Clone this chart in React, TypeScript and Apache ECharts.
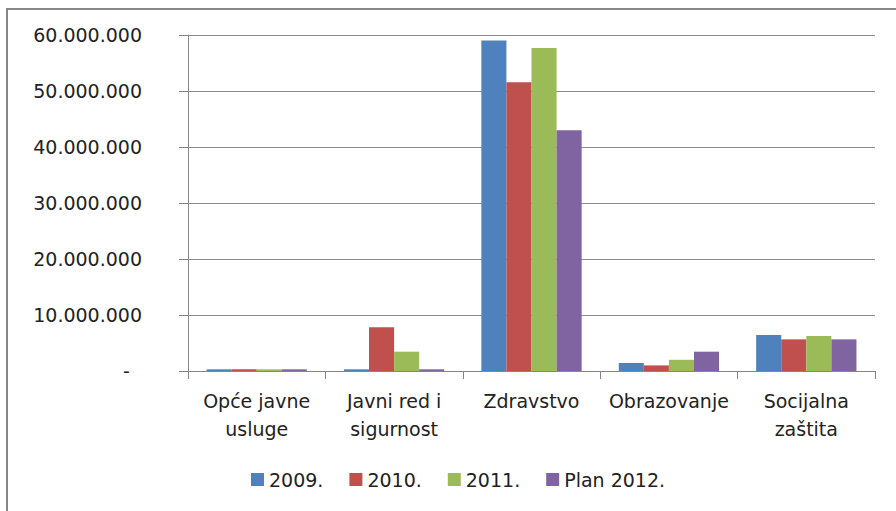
import React, { useEffect, useRef } from "react";
import * as echarts from "echarts";

const categories = ["Opće javne\nusluge", "Javni red i\nsigurnost", "Zdravstvo", "Obrazovanje", "Socijalna\nzaštita"];
const seriesNames = ["2009.", "2010.", "2011.", "Plan 2012."];
const values2009 = [300000, 300000, 59000000, 1430000, 6430000];
const values2010 = [300000, 7800000, 51550000, 1000000, 5650000];
const values2011 = [300000, 3450000, 57700000, 2000000, 6250000];
const values2012 = [300000, 300000, 43000000, 3450000, 5650000];
const colors = ["#4F81BD", "#C0504D", "#9BBB59", "#8064A2"];

const FONT = "DejaVu Sans";

function fmt(v: number): string {
  if (v === 0) return "-  ";
  return String(Math.round(v)).replace(/\B(?=(\d{3})+(?!\d))/g, ".");
}

export default function App() {
  const ref = useRef<HTMLDivElement>(null);
  useEffect(() => {
    if (!ref.current) return;
    const chart = echarts.init(ref.current, undefined, { renderer: "svg" });
    const all = [values2009, values2010, values2011, values2012];
    chart.setOption({
      animation: false,
      backgroundColor: "#ffffff",
      textStyle: { fontFamily: FONT },
      graphic: [
        {
          type: "rect",
          shape: { x: 7, y: 9, width: 900, height: 520 },
          style: { fill: "none", stroke: "#868686", lineWidth: 2 },
          silent: true,
        },
      ],
      grid: { left: 188, right: 21, top: 35, bottom: 140 },
      legend: {
        left: 246,
        top: 465,
        itemWidth: 13,
        itemHeight: 13,
        itemGap: 26,
        icon: "rect",
        textStyle: { fontFamily: FONT, fontSize: 19, color: "#222" },
        data: seriesNames,
      },
      xAxis: {
        type: "category",
        data: categories,
        axisLine: { lineStyle: { color: "#868686", width: 1 } },
        axisTick: { show: true, length: 8, lineStyle: { color: "#868686" } },
        axisLabel: {
          fontFamily: FONT,
          fontSize: 19,
          color: "#222",
          lineHeight: 28,
          margin: 16,
          interval: 0,
        },
      },
      yAxis: {
        type: "value",
        min: 0,
        max: 60000000,
        interval: 10000000,
        axisLine: { show: true, lineStyle: { color: "#868686", width: 1 } },
        axisTick: { show: true, length: 9, lineStyle: { color: "#868686" } },
        splitLine: { lineStyle: { color: "#8c8c8c", width: 1 } },
        axisLabel: {
          fontFamily: FONT,
          fontSize: 19,
          color: "#222",
          margin: 46,
          formatter: (v: number) => fmt(v),
        },
      },
      series: seriesNames.map((name, i) => ({
        name,
        type: "bar",
        data: all[i],
        barGap: "0%",
        barCategoryGap: "27%",
        itemStyle: { color: colors[i] },
      })),
    });
    return () => chart.dispose();
  }, []);
  return (
    <div
      ref={ref}
      style={{ position: "fixed", left: 0, top: 0, width: 896, height: 511 }}
    />
  );
}
